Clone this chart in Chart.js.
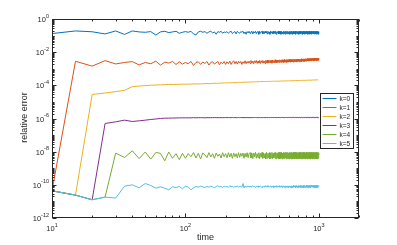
<!DOCTYPE html>
<html>
<head>
<meta charset="utf-8">
<script src="https://cdn.jsdelivr.net/npm/chart.js@4.4.0/dist/chart.umd.min.js"></script>
<style>
  html, body { margin: 0; padding: 0; background: #fff; }
  #wrap { width: 397px; height: 245px; }
</style>
</head>
<body>
<div id="wrap"><canvas id="errChart"></canvas></div>
<script>
'use strict';

// ── Data (values are log10 of the relative error) ─────────
const TIME = [
  10,15,20,25,30,35,40,45,50,55,60,65,70,75,80,85,90,95,100,
  105,110,115,120,125,130,135,140,145,150,155,160,165,170,175,180,185,190,195,200,
  205,210,215,220,225,230,235,240,245,250,255,260,265,270,275,280,285,290,295,300,
  305,310,315,320,325,330,335,340,345,350,355,360,365,370,375,380,385,390,395,400,
  405,410,415,420,425,430,435,440,445,450,455,460,465,470,475,480,485,490,495,500,
  505,510,515,520,525,530,535,540,545,550,555,560,565,570,575,580,585,590,595,600,
  605,610,615,620,625,630,635,640,645,650,655,660,665,670,675,680,685,690,695,700,
  705,710,715,720,725,730,735,740,745,750,755,760,765,770,775,780,785,790,795,800,
  805,810,815,820,825,830,835,840,845,850,855,860,865,870,875,880,885,890,895,900,
  905,910,915,920,925,930,935,940,945,950,955,960,965,970,975,980,985,990,995,1000,
];

const ERR_K0 = [
  -0.88,-0.72,-0.77,-0.90,-0.72,-0.93,-0.72,-0.78,-0.80,-0.76,-0.97,-0.78,-0.74,-0.82,-0.78,-0.74,-0.86,-0.80,-0.76,
  -0.80,-0.74,-0.90,-0.96,-0.78,-0.74,-0.80,-0.76,-0.86,-0.78,-0.74,-0.84,-0.78,-0.92,-0.76,-0.80,-0.74,-0.86,-0.78,-0.82,
  -0.76,-0.86,-0.78,-0.74,-0.88,-0.80,-0.76,-0.90,-0.74,-0.82,-0.86,-0.76,-0.80,-0.74,-0.88,-0.78,-0.92,-0.76,-0.84,-0.74,
  -0.86,-0.78,-0.74,-0.90,-0.76,-0.84,-0.74,-0.88,-0.78,-0.76,-0.92,-0.74,-0.86,-0.78,-0.74,-0.90,-0.76,-0.88,-0.74,-0.84,
  -0.76,-0.90,-0.74,-0.86,-0.78,-0.92,-0.74,-0.84,-0.76,-0.90,-0.74,-0.88,-0.76,-0.86,-0.74,-0.92,-0.78,-0.84,-0.74,-0.90,
  -0.74,-0.88,-0.76,-0.92,-0.74,-0.86,-0.78,-0.90,-0.74,-0.88,-0.76,-0.92,-0.74,-0.86,-0.76,-0.90,-0.74,-0.88,-0.78,-0.92,
  -0.74,-0.90,-0.76,-0.88,-0.74,-0.92,-0.76,-0.86,-0.74,-0.90,-0.78,-0.88,-0.74,-0.92,-0.76,-0.86,-0.74,-0.90,-0.76,-0.88,
  -0.74,-0.92,-0.76,-0.88,-0.74,-0.90,-0.78,-0.86,-0.74,-0.92,-0.76,-0.88,-0.74,-0.90,-0.76,-0.92,-0.74,-0.86,-0.76,-0.90,
  -0.74,-0.88,-0.76,-0.92,-0.74,-0.90,-0.76,-0.86,-0.74,-0.92,-0.76,-0.88,-0.74,-0.90,-0.78,-0.92,-0.74,-0.88,-0.76,-0.84,
  -0.74,-0.90,-0.76,-0.88,-0.74,-0.92,-0.76,-0.86,-0.74,-0.90,-0.76,-0.92,-0.74,-0.88,-0.76,-0.90,-0.74,-0.92,-0.76,-0.86,
];

const ERR_K1 = [
  -10.36,-2.55,-2.84,-2.51,-2.71,-2.62,-2.57,-2.77,-2.62,-2.70,-2.54,-2.78,-2.60,-2.66,-2.56,-2.74,-2.58,-2.72,-2.62,
  -2.70,-2.56,-2.80,-2.62,-2.58,-2.74,-2.60,-2.68,-2.56,-2.78,-2.62,-2.58,-2.72,-2.64,-2.56,-2.76,-2.60,-2.70,-2.56,-2.74,
  -2.58,-2.70,-2.54,-2.74,-2.60,-2.52,-2.70,-2.56,-2.72,-2.54,-2.66,-2.56,-2.74,-2.58,-2.68,-2.52,-2.70,-2.56,-2.66,-2.54,
  -2.68,-2.50,-2.66,-2.54,-2.70,-2.52,-2.64,-2.50,-2.68,-2.54,-2.66,-2.50,-2.68,-2.52,-2.64,-2.50,-2.66,-2.54,-2.68,-2.50,
  -2.64,-2.48,-2.66,-2.50,-2.62,-2.48,-2.64,-2.50,-2.66,-2.48,-2.62,-2.50,-2.64,-2.46,-2.62,-2.50,-2.64,-2.48,-2.60,-2.48,
  -2.62,-2.46,-2.60,-2.48,-2.62,-2.46,-2.60,-2.48,-2.62,-2.44,-2.60,-2.48,-2.60,-2.46,-2.62,-2.46,-2.58,-2.46,-2.60,-2.44,
  -2.58,-2.44,-2.60,-2.46,-2.58,-2.44,-2.58,-2.46,-2.60,-2.42,-2.58,-2.44,-2.56,-2.44,-2.58,-2.42,-2.58,-2.44,-2.56,-2.42,
  -2.56,-2.42,-2.58,-2.42,-2.56,-2.44,-2.56,-2.40,-2.56,-2.42,-2.54,-2.42,-2.56,-2.40,-2.54,-2.42,-2.56,-2.40,-2.54,-2.42,
  -2.54,-2.40,-2.54,-2.40,-2.52,-2.38,-2.54,-2.40,-2.52,-2.38,-2.52,-2.40,-2.52,-2.38,-2.50,-2.38,-2.52,-2.38,-2.50,-2.40,
  -2.52,-2.38,-2.52,-2.36,-2.50,-2.38,-2.52,-2.36,-2.50,-2.38,-2.50,-2.36,-2.52,-2.36,-2.50,-2.38,-2.50,-2.36,-2.50,-2.44,
];

const ERR_K2 = [
  -10.36,-10.62,-4.55,-4.46,-4.38,-4.30,-4.08,-4.04,-4.02,-3.99,-3.98,-3.97,-3.96,-3.95,-3.95,-3.94,-3.94,-3.93,-3.93,
  -3.93,-3.92,-3.92,-3.91,-3.92,-3.91,-3.90,-3.90,-3.89,-3.90,-3.89,-3.88,-3.88,-3.88,-3.87,-3.87,-3.87,-3.86,-3.86,-3.85,
  -3.85,-3.85,-3.84,-3.85,-3.84,-3.84,-3.83,-3.84,-3.83,-3.83,-3.82,-3.82,-3.82,-3.82,-3.81,-3.81,-3.81,-3.81,-3.80,-3.80,
  -3.80,-3.80,-3.80,-3.79,-3.79,-3.79,-3.79,-3.79,-3.78,-3.78,-3.78,-3.78,-3.78,-3.77,-3.77,-3.77,-3.77,-3.77,-3.77,-3.76,
  -3.77,-3.77,-3.77,-3.76,-3.76,-3.76,-3.76,-3.76,-3.76,-3.76,-3.75,-3.75,-3.75,-3.75,-3.75,-3.75,-3.75,-3.75,-3.75,-3.75,
  -3.75,-3.75,-3.74,-3.74,-3.74,-3.74,-3.74,-3.74,-3.74,-3.74,-3.74,-3.73,-3.73,-3.73,-3.73,-3.73,-3.73,-3.73,-3.73,-3.73,
  -3.73,-3.73,-3.72,-3.72,-3.72,-3.72,-3.72,-3.72,-3.72,-3.72,-3.72,-3.72,-3.71,-3.71,-3.71,-3.71,-3.71,-3.71,-3.71,-3.71,
  -3.71,-3.71,-3.71,-3.71,-3.71,-3.70,-3.70,-3.70,-3.70,-3.70,-3.70,-3.70,-3.70,-3.70,-3.70,-3.70,-3.70,-3.70,-3.70,-3.70,
  -3.70,-3.70,-3.70,-3.69,-3.69,-3.69,-3.69,-3.69,-3.69,-3.69,-3.69,-3.69,-3.69,-3.69,-3.69,-3.68,-3.68,-3.68,-3.68,-3.68,
  -3.68,-3.68,-3.68,-3.68,-3.68,-3.68,-3.68,-3.68,-3.68,-3.67,-3.67,-3.67,-3.67,-3.67,-3.67,-3.67,-3.67,-3.67,-3.67,-3.67,
];

const ERR_K3 = [
  -10.36,-10.62,-10.90,-6.30,-6.20,-6.10,-6.18,-6.14,-6.10,-6.06,-6.03,-6.00,-5.98,-5.98,-5.97,-5.97,-5.96,-5.96,-5.96,
  -5.96,-5.96,-5.95,-5.96,-5.95,-5.95,-5.95,-5.96,-5.95,-5.95,-5.95,-5.95,-5.94,-5.95,-5.95,-5.95,-5.94,-5.95,-5.95,-5.94,
  -5.95,-5.94,-5.95,-5.95,-5.94,-5.95,-5.94,-5.95,-5.95,-5.94,-5.95,-5.94,-5.95,-5.94,-5.95,-5.95,-5.94,-5.95,-5.94,-5.95,
  -5.95,-5.94,-5.95,-5.94,-5.95,-5.94,-5.94,-5.95,-5.94,-5.95,-5.94,-5.94,-5.95,-5.94,-5.95,-5.94,-5.94,-5.95,-5.94,-5.94,
  -5.94,-5.95,-5.94,-5.94,-5.95,-5.94,-5.94,-5.94,-5.95,-5.94,-5.94,-5.95,-5.94,-5.94,-5.94,-5.95,-5.94,-5.94,-5.94,-5.94,
  -5.94,-5.94,-5.95,-5.94,-5.94,-5.94,-5.93,-5.94,-5.94,-5.95,-5.94,-5.94,-5.93,-5.94,-5.94,-5.94,-5.95,-5.94,-5.93,-5.94,
  -5.94,-5.93,-5.94,-5.94,-5.95,-5.93,-5.94,-5.94,-5.93,-5.94,-5.95,-5.94,-5.93,-5.94,-5.94,-5.93,-5.95,-5.94,-5.93,-5.94,
  -5.93,-5.94,-5.94,-5.93,-5.95,-5.94,-5.93,-5.94,-5.93,-5.95,-5.94,-5.93,-5.94,-5.93,-5.94,-5.95,-5.93,-5.94,-5.93,-5.94,
  -5.94,-5.93,-5.95,-5.93,-5.94,-5.93,-5.95,-5.93,-5.94,-5.93,-5.95,-5.93,-5.94,-5.93,-5.95,-5.93,-5.94,-5.92,-5.95,-5.93,
  -5.93,-5.95,-5.93,-5.94,-5.92,-5.95,-5.93,-5.94,-5.93,-5.95,-5.92,-5.94,-5.93,-5.95,-5.93,-5.94,-5.92,-5.95,-5.93,-5.93,
];

const ERR_K4 = [
  -10.36,-10.62,-10.90,-10.74,-8.09,-8.35,-7.95,-8.42,-8.02,-8.45,-8.05,-8.10,-8.55,-8.02,-8.40,-8.12,-8.48,-8.10,-8.40,
  -8.12,-8.30,-8.05,-8.38,-8.10,-8.44,-8.08,-8.20,-8.36,-8.06,-8.32,-8.12,-8.40,-8.08,-8.28,-8.14,-8.38,-8.06,-8.30,-8.12,
  -8.36,-8.06,-8.32,-8.10,-8.40,-8.08,-8.30,-8.12,-8.38,-8.06,-8.34,-8.10,-8.28,-8.08,-8.40,-8.10,-8.32,-8.06,-8.36,-8.12,
  -8.06,-8.38,-8.10,-8.42,-8.08,-8.30,-8.04,-8.40,-8.12,-8.36,-8.06,-8.42,-8.10,-8.34,-8.04,-8.40,-8.08,-8.38,-8.12,-8.44,
  -8.04,-8.40,-8.10,-8.36,-8.06,-8.44,-8.08,-8.38,-8.04,-8.42,-8.10,-8.36,-8.06,-8.40,-8.04,-8.44,-8.08,-8.38,-8.06,-8.42,
  -8.04,-8.42,-8.06,-8.40,-8.04,-8.44,-8.08,-8.40,-8.04,-8.42,-8.06,-8.38,-8.04,-8.44,-8.06,-8.40,-8.04,-8.42,-8.08,-8.44,
  -8.04,-8.40,-8.06,-8.44,-8.04,-8.42,-8.06,-8.40,-8.04,-8.44,-8.06,-8.42,-8.04,-8.40,-8.06,-8.44,-8.04,-8.42,-8.06,-8.40,
  -8.04,-8.44,-8.06,-8.42,-8.04,-8.40,-8.06,-8.44,-8.04,-8.42,-8.06,-8.44,-8.04,-8.40,-8.06,-8.42,-8.04,-8.44,-8.06,-8.42,
  -8.04,-8.42,-8.06,-8.44,-8.04,-8.42,-8.06,-8.40,-8.04,-8.44,-8.06,-8.42,-8.04,-8.44,-8.06,-8.40,-8.04,-8.42,-8.06,-8.44,
  -8.04,-8.44,-8.06,-8.42,-8.04,-8.44,-8.06,-8.40,-8.04,-8.42,-8.06,-8.44,-8.04,-8.42,-8.06,-8.44,-8.04,-8.40,-8.06,-8.20,
];

const ERR_K5 = [
  -10.36,-10.62,-10.90,-10.74,-10.80,-10.08,-10.00,-10.18,-9.92,-10.04,-10.20,-10.12,-10.20,-10.30,-10.12,-10.16,-10.10,-10.24,-10.08,
  -10.14,-10.30,-10.18,-10.10,-10.14,-10.08,-10.12,-10.16,-10.10,-10.14,-10.08,-10.12,-10.18,-10.10,-10.06,-10.12,-10.10,-10.16,-10.08,-10.12,
  -10.10,-10.14,-10.06,-10.12,-10.08,-10.16,-10.10,-10.12,-10.06,-10.14,-10.10,-10.08,-10.14,-9.92,-10.18,-10.06,-10.14,-10.10,-10.08,-10.12,
  -10.08,-10.14,-10.10,-10.06,-10.12,-10.10,-10.16,-10.08,-10.12,-10.06,-10.14,-10.10,-10.08,-10.12,-10.16,-10.08,-10.10,-10.14,-10.06,-10.12,
  -10.10,-10.06,-10.14,-10.08,-10.12,-10.10,-10.06,-10.14,-10.08,-10.12,-10.06,-10.16,-10.10,-10.08,-10.12,-10.06,-10.14,-10.10,-10.08,-10.12,
  -10.06,-10.14,-10.08,-10.12,-10.06,-10.16,-10.08,-10.10,-10.06,-10.14,-10.10,-10.18,-10.06,-10.12,-10.08,-10.14,-10.06,-10.16,-10.08,-10.12,
  -10.06,-10.14,-10.08,-10.18,-10.06,-10.12,-10.08,-10.16,-10.04,-10.14,-10.08,-10.12,-10.06,-10.18,-10.08,-10.14,-10.04,-10.16,-10.08,-10.12,
  -10.04,-10.16,-10.08,-10.12,-10.04,-10.18,-10.06,-10.14,-10.04,-10.16,-10.08,-10.12,-10.04,-10.18,-10.06,-10.14,-10.04,-10.16,-10.08,-10.12,
  -10.04,-10.16,-10.06,-10.14,-10.02,-10.18,-10.06,-10.12,-10.04,-10.16,-10.06,-10.14,-10.02,-10.16,-10.06,-10.12,-10.04,-10.14,-10.04,-10.06,
  -10.04,-10.14,-10.06,-10.18,-10.02,-10.14,-10.06,-10.16,-10.04,-10.12,-10.02,-10.18,-10.06,-10.14,-10.04,-10.16,-10.02,-10.12,-10.06,-10.04,
];

const SERIES  = [ERR_K0, ERR_K1, ERR_K2, ERR_K3, ERR_K4, ERR_K5];
const LABELS  = ['k=0', 'k=1', 'k=2', 'k=3', 'k=4', 'k=5'];
const COLORS  = ['#0072BD', '#D95319', '#EDB120', '#7E2F8E', '#77AC30', '#4DBEEE'];

// axis ticks (labelled powers of ten)
const X_TICK_EXP = [1, 2, 3];
const Y_TICK_EXP = [0, -2, -4, -6, -8, -10, -12];
const X_MIN = 10, X_MAX = 2000;
const Y_MIN = 1e-12, Y_MAX = 1;

const AXIS = '#262626';
const FONT = "'Liberation Sans', Arial, sans-serif";

// ── Helpers ───────────────────────────────────────────────
function drawPow(ctx, exp, x, y, align) {
  const base = '10', sup = String(exp);
  ctx.font = `7.5px ${FONT}`;
  const wb = ctx.measureText(base).width;
  ctx.font = `5.5px ${FONT}`;
  const we = ctx.measureText(sup).width;
  const x0 = align === 'right' ? x - wb - we : x - (wb + we) / 2;
  ctx.textAlign = 'left';
  ctx.textBaseline = 'middle';
  ctx.fillStyle = AXIS;
  ctx.font = `7.5px ${FONT}`;
  ctx.fillText(base, x0, y + 1);
  ctx.font = `5.5px ${FONT}`;
  ctx.fillText(sup, x0 + wb, y - 3);
}

// ── Axes box, inward ticks, labels, legend ────────────────
const matlabAxes = {
  id: 'matlabAxes',
  afterDraw(chart) {
    const { ctx, chartArea: a, scales: { x, y } } = chart;
    const L = Math.round(a.left) + 0.5, R = Math.round(a.right) - 0.5;
    const T = Math.round(a.top) + 0.5, B = Math.round(a.bottom) - 0.5;
    ctx.save();
    ctx.strokeStyle = AXIS;
    ctx.lineWidth = 1;
    ctx.strokeRect(L, T, R - L, B - T);

    ctx.beginPath();
    // y ticks
    for (let e = -12; e <= 0; e++) {
      for (let m = 1; m <= 9; m++) {
        const v = m * Math.pow(10, e);
        if (v > Y_MAX) break;
        const py = Math.round(y.getPixelForValue(v)) + 0.5;
        const len = (m === 1 && e % 2 === 0) ? 4 : 2;
        ctx.moveTo(L, py); ctx.lineTo(L + len, py);
        ctx.moveTo(R, py); ctx.lineTo(R - len, py);
      }
    }
    // x ticks
    for (let e = 1; e <= 3; e++) {
      for (let m = 1; m <= 9; m++) {
        const v = m * Math.pow(10, e);
        if (v > X_MAX) break;
        const px = Math.round(x.getPixelForValue(v)) + 0.5;
        const len = m === 1 ? 4 : 2;
        ctx.moveTo(px, B); ctx.lineTo(px, B - len);
        ctx.moveTo(px, T); ctx.lineTo(px, T + len);
      }
    }
    ctx.stroke();

    // tick labels
    Y_TICK_EXP.forEach(e => drawPow(ctx, e, a.left - 3, y.getPixelForValue(Math.pow(10, e)), 'right'));
    X_TICK_EXP.forEach(e => drawPow(ctx, e, x.getPixelForValue(Math.pow(10, e)), a.bottom + 10, 'center'));

    // axis titles
    ctx.fillStyle = AXIS;
    ctx.font = `9px ${FONT}`;
    ctx.textAlign = 'center';
    ctx.textBaseline = 'middle';
    ctx.fillText('time', (a.left + a.right) / 2, a.bottom + 20);
    ctx.translate(25, (a.top + a.bottom) / 2 - 1);
    ctx.rotate(-Math.PI / 2);
    ctx.fillText('relative error', 0, 0);
    ctx.restore();

    // legend box
    ctx.save();
    const bx = 320.5, by = 93.5, bw = 33, bh = 55;
    ctx.fillStyle = '#fff';
    ctx.fillRect(bx, by, bw, bh);
    ctx.strokeStyle = '#262626';
    ctx.lineWidth = 1;
    ctx.strokeRect(bx, by, bw, bh);
    ctx.font = `6.5px ${FONT}`;
    ctx.textAlign = 'left';
    ctx.textBaseline = 'middle';
    chart.data.datasets.forEach((ds, i) => {
      const ly = by + 5 + i * 9;
      ctx.strokeStyle = ds.borderColor;
      ctx.beginPath();
      ctx.moveTo(bx + 2, ly); ctx.lineTo(bx + 16, ly);
      ctx.stroke();
      ctx.fillStyle = AXIS;
      ctx.fillText(ds.label, bx + 19, ly + 0.5);
    });
    ctx.restore();
  }
};

// ── Chart ─────────────────────────────────────────────────
const datasets = SERIES.map((s, k) => ({
  label: LABELS[k],
  data: TIME.map((t, i) => ({ x: t, y: Math.pow(10, s[i]) })),
  borderColor: COLORS[k],
  borderWidth: 1,
  pointRadius: 0,
  tension: 0,
  fill: false,
  order: SERIES.length - 1 - k,   // later series on top, like the original
}));

new Chart(document.getElementById('errChart'), {
  type: 'line',
  data: { datasets },
  options: {
    responsive: true, maintainAspectRatio: false,
    animation: false,
    events: [],
    layout: { padding: { left: 0, right: 38, top: 19, bottom: 0 } },
    plugins: { legend: { display: false }, tooltip: { enabled: false } },
    scales: {
      x: {
        type: 'logarithmic', min: X_MIN, max: X_MAX,
        grid: { display: false, drawTicks: false },
        border: { display: false },
        ticks: { display: false },
        afterFit(s) { s.height = 27; },
      },
      y: {
        type: 'logarithmic', min: Y_MIN, max: Y_MAX,
        grid: { display: false, drawTicks: false },
        border: { display: false },
        ticks: { display: false },
        afterFit(s) { s.width = 52; },
      },
    },
  },
  plugins: [matlabAxes],
});
</script>
</body>
</html>
